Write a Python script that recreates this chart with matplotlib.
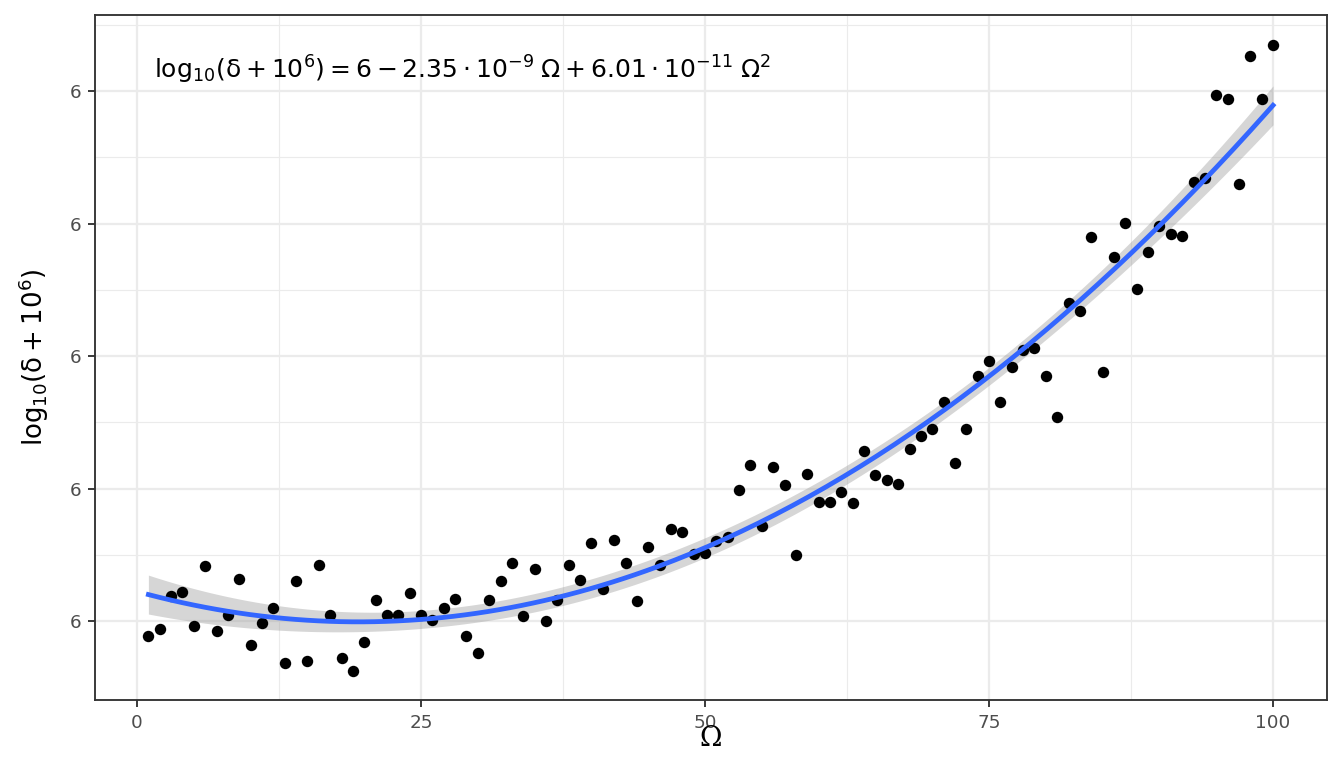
"""
plot.py — quadratic fit of log10(delta + 1e6) against Omega (ggplot-style)

Run:
    python plot.py      -> out.png
"""

import matplotlib
matplotlib.use("Agg")
import matplotlib.pyplot as plt
import numpy as np

# ── data ─────────────────────────────────────────────────────────────────────
# omega runs 1..100; y values are stored as the offset from 6 in units of 1e-9
omega = list(range(1, 101))
offset_1e9 = [
    -11.3, -6.0, 19.1, 21.7, -3.5, 41.5, -7.3, 4.8, 31.9, -18.3,
    -1.3, 9.6, -31.7, 30.2, -30.2, 42.3, 4.3, -27.9, -38.0, -16.1,
    16.1, 4.8, 4.8, 21.1, 4.5, 0.8, 9.6, 16.6, -11.5, -24.2,
    15.8, 30.4, 43.8, 4.0, 39.5, 0.0, 15.8, 42.0, 30.6, 59.1,
    24.4, 60.9, 43.5, 15.1, 55.8, 42.5, 69.4, 66.9, 50.6, 51.5,
    60.6, 63.2, 98.9, 118.0, 71.7, 116.0, 102.6, 49.8, 110.7, 89.6,
    89.6, 97.1, 88.8, 128.5, 110.0, 106.6, 103.2, 130.0, 139.6, 144.9,
    165.5, 119.0, 144.7, 185.1, 196.2, 165.3, 191.5, 204.8, 206.0, 185.1,
    154.0, 239.8, 234.0, 289.8, 187.7, 274.5, 300.6, 250.3, 278.5, 298.3,
    292.1, 290.6, 331.5, 334.3, 397.0, 393.7, 330.0, 426.6, 393.7, 434.5,
]
y_ticks_offset_1e9 = [0, 100, 200, 300, 400]
y_tick_labels = ["6", "6", "6", "6", "6"]
x_ticks = [0, 25, 50, 75, 100]
equation = (r"$\mathregular{log_{10}(\delta+10^6) = 6 - 2.35\cdot10^{-9}\;\Omega"
            r" + 6.01\cdot10^{-11}\;\Omega^2}$")

# ── style (theme_bw look) ────────────────────────────────────────────────────
GRID_MAJOR = "#EBEBEB"
BORDER     = "#333333"
TICK_TEXT  = "#4D4D4D"
LINE_BLUE  = "#3366FF"
T_975      = 1.9847       # t quantile, df = 97


def fit_quadratic(x, y, x_new):
    X = np.column_stack([np.ones_like(x), x, x ** 2])
    beta, *_ = np.linalg.lstsq(X, y, rcond=None)
    resid = y - X @ beta
    s2 = resid @ resid / (len(x) - 3)
    cov = s2 * np.linalg.inv(X.T @ X)
    Xn = np.column_stack([np.ones_like(x_new), x_new, x_new ** 2])
    fit = Xn @ beta
    se = np.sqrt(np.einsum("ij,jk,ik->i", Xn, cov, Xn))
    return fit, fit - T_975 * se, fit + T_975 * se


def main():
    x = np.array(omega, dtype=float)
    off = np.array(offset_1e9)
    y = 6 + off * 1e-9

    x_new = np.linspace(x.min(), x.max(), 200)
    fit, lo, hi = fit_quadratic(x, off, x_new)

    fig = plt.figure(figsize=(8.96, 5.12), dpi=150)
    ax = fig.add_axes([95 / 1344, 1 - 700 / 768, 1232 / 1344, 685 / 768])

    ax.fill_between(x_new, 6 + lo * 1e-9, 6 + hi * 1e-9,
                    color="#999999", alpha=0.4, linewidth=0, zorder=2)
    ax.scatter(x, y, s=30, color="black", linewidths=0, zorder=3)
    ax.plot(x_new, 6 + fit * 1e-9, color=LINE_BLUE, linewidth=2.3, zorder=4)

    ax.set_xlim(-3.7, 104.75)
    ax.set_ylim(6 - 59.6e-9, 6 + 457.4e-9)

    yt = [6 + t * 1e-9 for t in y_ticks_offset_1e9]
    ax.set_yticks(yt)
    ax.set_yticklabels(y_tick_labels)
    ax.set_xticks(x_ticks)
    ax.set_xticklabels([str(t) for t in x_ticks])
    ax.set_xticks([12.5, 37.5, 62.5, 87.5], minor=True)
    ax.set_yticks([6 + t * 1e-9 for t in (50, 150, 250, 350, 450)], minor=True)

    ax.grid(which="major", color=GRID_MAJOR, linewidth=1.1, zorder=0)
    ax.grid(which="minor", color=GRID_MAJOR, linewidth=0.55, zorder=0)
    ax.set_axisbelow(True)

    for sp in ax.spines.values():
        sp.set_color(BORDER)
        sp.set_linewidth(0.9)
    ax.tick_params(which="major", length=3.5, width=0.9, color=BORDER,
                   labelcolor=TICK_TEXT, labelsize=8.8, pad=3)
    ax.tick_params(which="minor", length=0)

    ax.text(1.5, 6 + 416e-9, equation, fontsize=12, ha="left", va="center",
            color="black")

    ax.set_xlabel("Ω", fontsize=13, family="DejaVu Serif")
    ax.xaxis.set_label_coords(0.5, -0.036)
    ax.set_ylabel(r"$\mathregular{log_{10}(\delta+10^6)}$", fontsize=12.5)
    ax.yaxis.set_label_coords(-0.036, 0.5)

    fig.savefig("out.png", dpi=150, facecolor="white")
    plt.close(fig)


if __name__ == "__main__":
    main()
